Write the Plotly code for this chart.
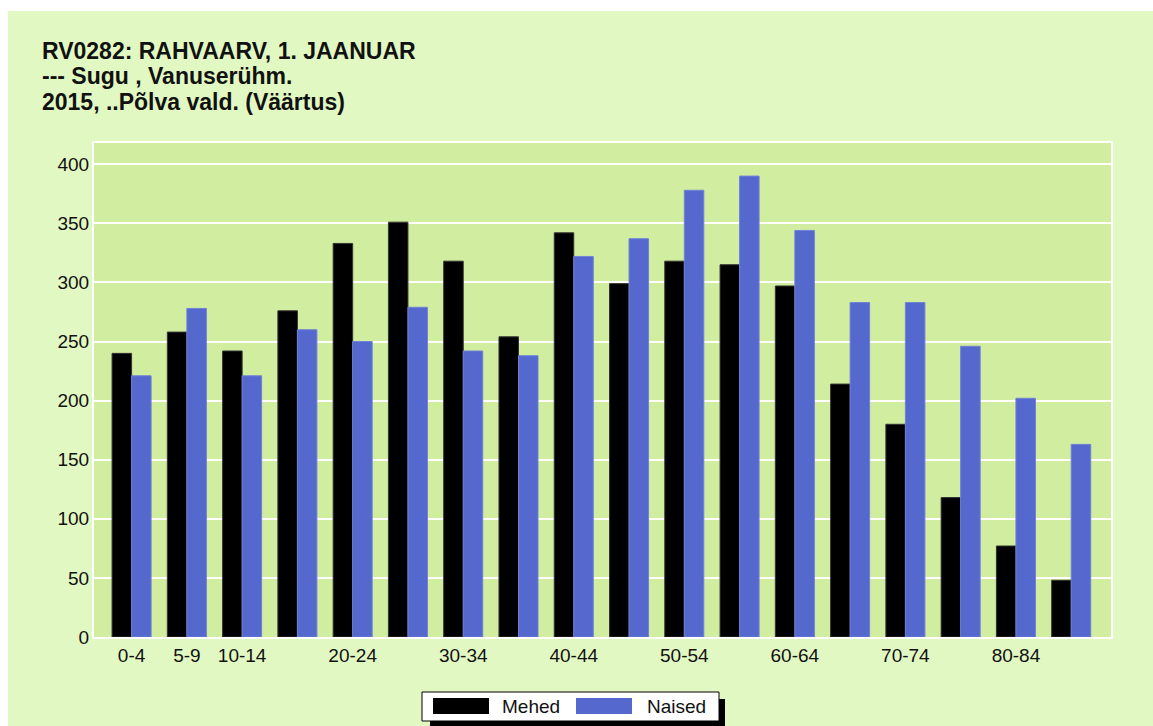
import plotly.graph_objects as go

categories = ["0-4", "5-9", "10-14", "15-19", "20-24", "25-29", "30-34", "35-39",
              "40-44", "45-49", "50-54", "55-59", "60-64", "65-69", "70-74",
              "75-79", "80-84", "85+"]
mehed = [240, 258, 242, 276, 333, 351, 318, 254, 342, 299, 318, 315, 297, 214, 180, 118, 77, 48]
naised = [221, 278, 221, 260, 250, 279, 242, 238, 322, 337, 378, 390, 344, 283, 283, 246, 202, 163]
shown_ticks = ["0-4", "5-9", "10-14", "20-24", "30-34", "40-44", "50-54", "60-64", "70-74", "80-84"]
title_lines = ["RV0282: RAHVAARV, 1. JAANUAR", "--- Sugu , Vanuserühm.", "2015, ..Põlva vald. (Väärtus)"]
series_names = ["Mehed", "Naised"]
series_colors = ["#000000", "#5468CD"]

# the page body margin is removed (post_script), so the figure fills the window
W, H = 1153, 726
PL, PR, PT, PB = 94, 1111, 143, 637          # plot area in page pixels
ML, MR, MT, MB = PL, W - PR, PT, H - PB
PW, PH = W - ML - MR, H - MT - MB


def px(x):
    """page pixel x -> paper fraction"""
    return (x - ML) / PW


def py(y):
    """page pixel y -> paper fraction"""
    return (H - MB - y) / PH


font_family = "Liberation Sans, Arial, sans-serif"
txt_color = "#111111"

fig = go.Figure()
fig.add_trace(go.Bar(x=categories, y=mehed, name=series_names[0],
                     marker=dict(color=series_colors[0], line=dict(color="#333333", width=1))))
fig.add_trace(go.Bar(x=categories, y=naised, name=series_names[1],
                     marker=dict(color=series_colors[1], line=dict(color="#7080D8", width=1))))

fig.update_layout(
    width=W, height=H,
    margin=dict(l=ML, r=MR, t=MT, b=MB, autoexpand=False),
    paper_bgcolor="#E2F8C2",
    plot_bgcolor="#D1EEA0",
    barmode="group", bargap=0.294, bargroupgap=0,
    font=dict(family=font_family, size=19, color=txt_color),
    showlegend=False,
    xaxis=dict(type="category", range=[-0.68, 17.72], tickmode="array",
               tickvals=shown_ticks, ticktext=shown_ticks, showgrid=False,
               ticks="", ticklabelstandoff=0, showline=True, linecolor="#FFFFFF",
               linewidth=2, mirror=True, fixedrange=True),
    yaxis=dict(range=[0, 418], dtick=50, showgrid=True, gridcolor="#FFFFFF", gridwidth=2,
               ticks="", ticklabelstandoff=-1, zeroline=False, showline=True,
               linecolor="#FFFFFF", linewidth=2, mirror=True),
)

# title lines
for line, yc in zip(title_lines, [50.5, 76.2, 101.9]):
    fig.add_annotation(text="<b>%s</b>" % line, xref="paper", yref="paper",
                       x=px(40), y=py(yc), xanchor="left", yanchor="middle",
                       showarrow=False, font=dict(size=23, color=txt_color, family=font_family))

# white page margins at the top and left
fig.add_shape(type="rect", xref="paper", yref="paper", x0=px(0), x1=px(W), y0=py(11), y1=py(0),
              fillcolor="#FFFFFF", line=dict(width=0), layer="below")
fig.add_shape(type="rect", xref="paper", yref="paper", x0=px(0), x1=px(8), y0=py(H), y1=py(0),
              fillcolor="#FFFFFF", line=dict(width=0), layer="below")

# legend box with drop shadow
fig.add_shape(type="rect", xref="paper", yref="paper", x0=px(430), x1=px(725), y0=py(728), y1=py(699),
              fillcolor="#000000", line=dict(width=0))
fig.add_shape(type="rect", xref="paper", yref="paper", x0=px(422), x1=px(719), y0=py(721), y1=py(692),
              fillcolor="#FFFFFF", line=dict(color="#000000", width=1))
for name, color, sx, tx in zip(series_names, series_colors, [433, 576], [500, 645]):
    fig.add_shape(type="rect", xref="paper", yref="paper", x0=px(sx), x1=px(sx + 56),
                  y0=py(714), y1=py(698), fillcolor=color, line=dict(width=0))
    fig.add_annotation(text=name, xref="paper", yref="paper", x=px(tx), y=py(706.5),
                       xanchor="left", yanchor="middle", showarrow=False,
                       font=dict(size=19, color=txt_color, family=font_family))

fig.write_html("out.html",
               config={"displayModeBar": False},
               post_script="document.body.style.margin='0';document.body.style.overflow='hidden';")
